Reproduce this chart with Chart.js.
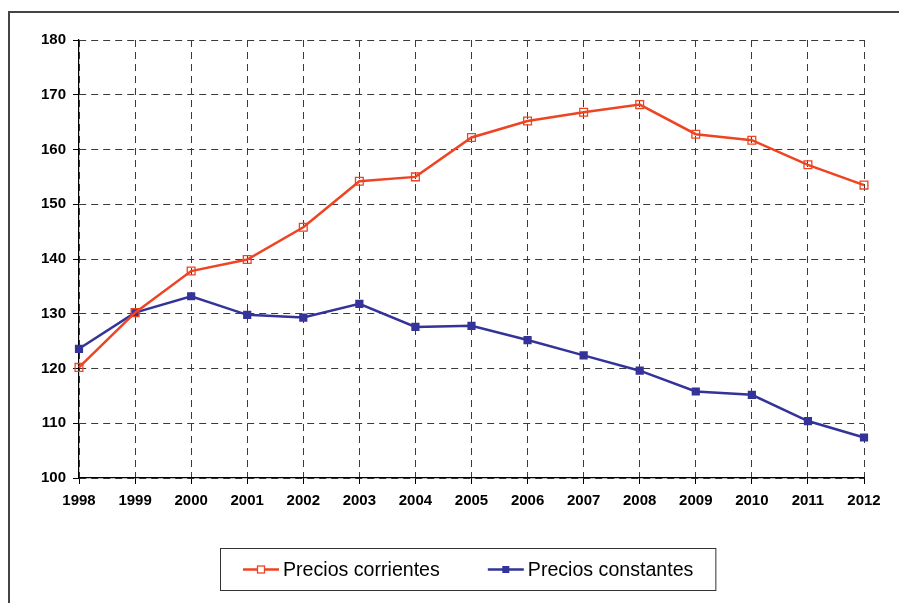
<!DOCTYPE html>
<html>
<head>
<meta charset="utf-8">
<script src="https://cdn.jsdelivr.net/npm/chart.js@4.4.1/dist/chart.umd.min.js"></script>
<style>
  html, body { margin: 0; padding: 0; background: #fff; }
  #wrap { width: 899px; height: 603px; position: relative; }
</style>
</head>
<body>
<div id="wrap"><canvas id="c"></canvas></div>
<script>
const years = ['1998','1999','2000','2001','2002','2003','2004','2005','2006','2007','2008','2009','2010','2011','2012'];
const preciosCorrientes = [120.2, 130.2, 137.8, 139.9, 145.8, 154.2, 155.0, 162.2, 165.2, 166.8, 168.2, 162.8, 161.7, 157.2, 153.5];
const preciosConstantes = [123.6, 130.2, 133.2, 129.8, 129.3, 131.8, 127.6, 127.8, 125.2, 122.4, 119.6, 115.8, 115.2, 110.4, 107.4];
const seriesLabels = ['Precios corrientes', 'Precios constantes'];
const yMin = 100, yMax = 180, yStep = 10;

const RED = '#EE4422';
const BLUE = '#333399';
const FONT = "'Liberation Sans', Arial, Helvetica, sans-serif";

const frameAndLegend = {
  id: 'frameAndLegend',
  beforeDraw(chart) {
    const ctx = chart.ctx;
    ctx.save();
    ctx.fillStyle = '#fff';
    ctx.fillRect(0, 0, chart.width, chart.height);
    ctx.strokeStyle = '#444';
    ctx.lineWidth = 2;
    ctx.beginPath();
    ctx.moveTo(9, chart.height + 5);
    ctx.lineTo(9, 12);
    ctx.lineTo(chart.width + 5, 12);
    ctx.stroke();
    ctx.restore();
  },
  afterDraw(chart) {
    const ctx = chart.ctx;
    ctx.save();
    ctx.font = '19.6px ' + FONT;
    const sample = 36, gapText = 4, gapItems = 48, padX = 22.5;
    const items = chart.data.datasets.map(ds => ({
      ds, w: sample + gapText + ctx.measureText(ds.label).width
    }));
    const total = items.reduce((s, it) => s + it.w, 0) + gapItems * (items.length - 1);
    const boxW = total + 2 * padX;
    const cx = 468;
    const boxX = Math.round(cx - boxW / 2) + 0.5;
    const boxY = 548.5, boxH = 42;
    ctx.strokeStyle = '#333';
    ctx.lineWidth = 1;
    ctx.strokeRect(boxX, boxY, boxW, boxH);
    const cy = boxY + boxH / 2;
    let x = boxX + padX;
    items.forEach(it => {
      const ds = it.ds;
      ctx.strokeStyle = ds.borderColor;
      ctx.lineWidth = 2.5;
      ctx.beginPath();
      ctx.moveTo(x, cy);
      ctx.lineTo(x + sample, cy);
      ctx.stroke();
      const mx = x + sample / 2;
      const s = 3.5;
      if (ds.pointBackgroundColor === 'transparent') {
        ctx.fillStyle = '#fff';
        ctx.fillRect(mx - s, cy - s, 2 * s, 2 * s);
        ctx.lineWidth = 1.3;
        ctx.strokeStyle = ds.borderColor;
        ctx.strokeRect(mx - s, cy - s, 2 * s, 2 * s);
      } else {
        ctx.fillStyle = ds.borderColor;
        ctx.fillRect(mx - s, cy - s, 2 * s, 2 * s);
      }
      ctx.fillStyle = '#000';
      ctx.textBaseline = 'middle';
      ctx.textAlign = 'left';
      ctx.fillText(ds.label, x + sample + gapText, cy + 1);
      x += it.w + gapItems;
    });
    ctx.restore();
  }
};

new Chart(document.getElementById('c'), {
  type: 'line',
  data: {
    labels: years,
    datasets: [
      {
        label: seriesLabels[0],
        data: preciosCorrientes,
        borderColor: RED,
        borderWidth: 2.5,
        pointStyle: 'rect',
        pointRadius: 5.5,
        pointBorderWidth: 1.3,
        pointBorderColor: RED,
        pointBackgroundColor: 'transparent',
        tension: 0,
        fill: false
      },
      {
        label: seriesLabels[1],
        data: preciosConstantes,
        borderColor: BLUE,
        backgroundColor: BLUE,
        borderWidth: 2.5,
        pointStyle: 'rect',
        pointRadius: 5.8,
        pointBorderWidth: 0,
        pointBackgroundColor: BLUE,
        tension: 0,
        fill: false
      }
    ]
  },
  options: {
    responsive: true,
    maintainAspectRatio: false,
    animation: false,
    layout: { padding: { left: 0, top: 40, right: 35, bottom: 0 } },
    plugins: { legend: { display: false }, tooltip: { enabled: false } },
    scales: {
      x: {
        type: 'category',
        offset: false,
        afterFit(scale) { scale.height = 125; },
        grid: { color: '#3a3a3a', lineWidth: 1, tickLength: 6, tickColor: '#000', drawTicks: true },
        border: { display: true, color: '#000', width: 1.2, dash: [7, 5] },
        ticks: { color: '#000', padding: 8, maxRotation: 0, autoSkip: false,
                 font: { family: FONT, size: 15, weight: 'bold' } }
      },
      y: {
        min: yMin, max: yMax,
        afterFit(scale) { scale.width = 79; },
        grid: { color: '#3a3a3a', lineWidth: 1, tickLength: 6, tickColor: '#000', drawTicks: true },
        border: { display: true, color: '#000', width: 1.2, dash: [7, 5] },
        ticks: { stepSize: yStep, color: '#000', padding: 7,
                 font: { family: FONT, size: 15, weight: 'bold' } }
      }
    }
  },
  plugins: [frameAndLegend]
});
</script>
</body>
</html>
